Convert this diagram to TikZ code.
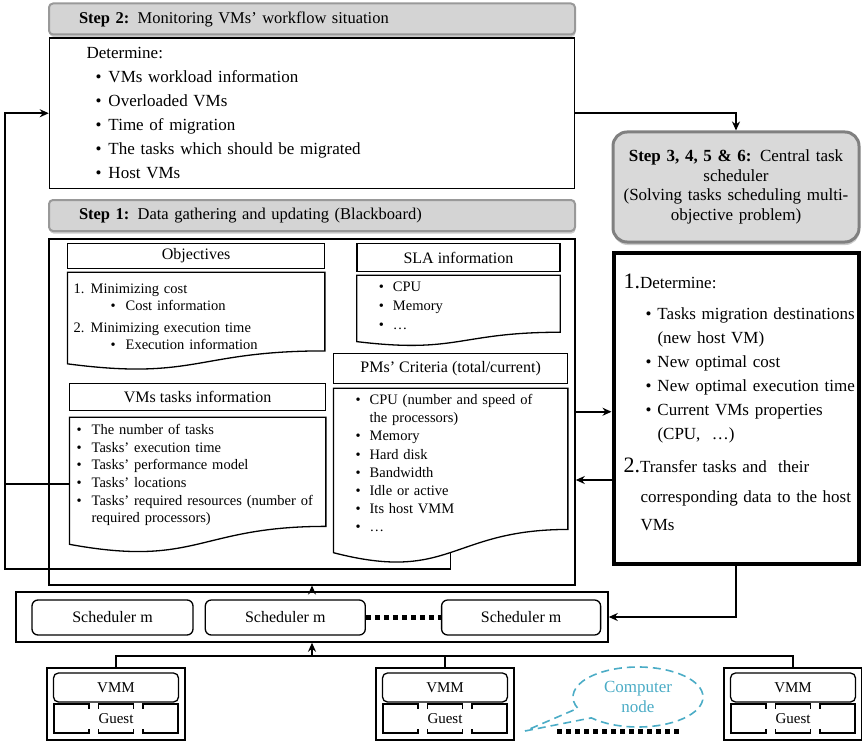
\documentclass[tikz,border=0pt]{standalone}
\usepackage{fontspec}
\setmainfont{Liberation Serif}
\usepackage{tikz}
\usetikzlibrary{shapes.geometric, shapes.callouts, arrows.meta}
\usetikzlibrary{positioning, calc, shadows}
\definecolor{calloutblue}{HTML}{4BACC6}
\tikzstyle{stephead} = [rectangle, rounded corners=4pt, draw=black!40, fill=black!17, line width=2pt, drop shadow={shadow xshift=0.5pt, shadow yshift=-2.5pt, fill=black!40}, inner xsep=30pt, inner ysep=0pt, text width=466pt, align=left, minimum height=31pt, font=\fontsize{16.5}{20}\selectfont]
\tikzstyle{arrow} = [line width=1.8pt,-{Stealth[length=9pt,width=8pt]}]
\newcommand{\bitem}[3]{\hspace*{#1}\makebox[#2][l]{\textbullet}\mbox{#3}}
\newcommand{\docframe}[2]{%
  \draw[line width=1.3pt] (#1.north west) -- (#1.north east) -- ($(#1.north east)+(0,0.802*#2)$)
    .. controls ($(#1.north)+(0,0.802*#2)$) and ($(#1.north)+(0,1.107*#2)$) .. ($(#1.north west)+(0,0.934*#2)$)
    coordinate[pos=0.5] (#1foot) -- cycle;}

\begin{document}
\begin{tikzpicture}[x=1pt, y=-1pt,
titlebox/.style={rectangle, draw, line width=1.3pt, inner sep=0pt, anchor=north west, font=\fontsize{16}{18}\selectfont},
docnode/.style={rectangle, anchor=north west, align=left, inner xsep=6pt, font=\fontsize{14.5}{17.6}\selectfont},
schedbox/.style={rectangle, rounded corners=6pt, draw, line width=1.3pt, minimum height=35pt, font=\fontsize{16}{18}\selectfont},
pcbox/.style={rectangle, draw, line width=1.3pt, minimum width=138pt, minimum height=72pt},
vmmbox/.style={rectangle, rounded corners=5pt, draw, line width=1.3pt, minimum width=125pt, minimum height=29pt, font=\fontsize{15}{17}\selectfont},
guestpart/.style={rectangle, draw, line width=1.3pt, minimum width=35pt, minimum height=29pt},
dots/.style={line width=5pt, dash pattern=on 5pt off 4pt},
]
\useasboundingbox (0,0) rectangle (862,741);

%Nodes
\node[stephead] (step2head) at (312,19) {\textbf{Step 2:} Monitoring VMs’ workflow situation};
\node[rectangle, draw, line width=1.5pt, minimum width=525pt, minimum height=150pt, inner xsep=37pt, inner ysep=0pt, text width=451pt, align=left, font=\fontsize{17}{24}\selectfont] (step2body) [below=2pt of step2head]
  {Determine:\\
   \bitem{9pt}{13pt}{VMs workload information}\\
   \bitem{9pt}{13pt}{Overloaded VMs}\\
   \bitem{9pt}{13pt}{Time of migration}\\
   \bitem{9pt}{13pt}{The tasks which should be migrated}\\
   \bitem{9pt}{13pt}{Host VMs}};
\node[stephead] (step1head) [below=10pt of step2body] {\textbf{Step 1:} Data gathering and updating (Blackboard)};
\node[rectangle, draw, line width=1.5pt, minimum width=526pt, minimum height=346pt] (bboard) [below=6pt of step1head] {};

\node[titlebox, minimum width=257pt, minimum height=25pt] (objtitle) at (67,243) {Objectives};
\node[docnode, inner ysep=11pt, text width=245pt] (objdoc) [below=3pt of objtitle]
  {\makebox[17pt][l]{1.}Minimizing cost\\
   \bitem{37pt}{15pt}{Cost information}\\[4pt]
   \makebox[17pt][l]{2.}Minimizing execution time\\
   \bitem{37pt}{15pt}{Execution information}};
\node[titlebox, minimum width=256pt, minimum height=27pt] (vmstitle) at (69,383) {VMs tasks information};
\node[docnode, inner xsep=7pt, inner ysep=7pt, text width=242pt] (vmsdoc) [below=6pt of vmstitle]
  {\bitem{0pt}{15pt}{The number of tasks}\\
   \bitem{0pt}{15pt}{Tasks’ execution time}\\
   \bitem{0pt}{15pt}{Tasks’ performance model}\\
   \bitem{0pt}{15pt}{Tasks’ locations}\\
   \bitem{0pt}{15pt}{Tasks’ required resources (number of}\\
   \hspace*{15pt}required processors)};
\node[titlebox, minimum width=203pt, minimum height=28pt] (slatitle) [right=31pt of objtitle.north east, anchor=north west] {SLA information};
\node[docnode, inner ysep=6pt, text width=191pt, font=\fontsize{14.5}{19}\selectfont] (sladoc) [below=3pt of slatitle]
  {\bitem{16pt}{14pt}{CPU}\\
   \bitem{16pt}{14pt}{Memory}\\
   \bitem{16pt}{14pt}{…}};
\node[titlebox, minimum width=234pt, minimum height=30pt] (pmstitle) at (333,353) {PMs’ Criteria (total/current)};
\node[docnode, inner ysep=6pt, text width=222pt, font=\fontsize{14.5}{18.1}\selectfont] (pmsdoc) [below=4pt of pmstitle]
  {\bitem{16pt}{14pt}{CPU (number and speed of}\\
   \hspace*{30pt}the processors)\\
   \bitem{16pt}{14pt}{Memory}\\
   \bitem{16pt}{14pt}{Hard disk}\\
   \bitem{16pt}{14pt}{Bandwidth}\\
   \bitem{16pt}{14pt}{Idle or active}\\
   \bitem{16pt}{14pt}{Its host VMM}\\
   \bitem{16pt}{14pt}{…}};

\node[rectangle, rounded corners=14pt, draw=black!50, fill=black!15, line width=3pt, drop shadow={shadow xshift=0.5pt, shadow yshift=-3pt, fill=black!40}, minimum width=246pt, minimum height=110pt, text width=236pt, inner sep=0pt, align=center, font=\fontsize{17}{19.7}\selectfont] (central) at (736,187)
  {\textbf{Step 3, 4, 5 \& 6:} Central task\\ scheduler\\ (Solving tasks scheduling multi-\\ objective problem)};
\node[rectangle, draw, line width=4pt, minimum width=245pt, minimum height=311pt, inner xsep=10pt, inner ysep=0pt, text width=225pt, align=left, font=\fontsize{17}{24}\selectfont] (rightbox) [below=7pt of central]
  {\mbox{{\fontsize{22}{24}\selectfont 1.}Determine:}\\[7pt]
   \bitem{22pt}{12pt}{Tasks migration destinations}\\
   \hspace*{34pt}\mbox{(new host VM)}\\
   \bitem{22pt}{12pt}{New optimal cost}\\
   \bitem{22pt}{12pt}{New optimal execution time}\\
   \bitem{22pt}{12pt}{Current VMs properties}\\
   \hspace*{34pt}\mbox{(CPU,~ …)}\\[9pt]
   \mbox{{\fontsize{22}{24}\selectfont 2.}Transfer tasks and~ their}\\[6pt]
   \hspace*{17pt}\mbox{corresponding data to the host}\\[4pt]
   \hspace*{17pt}VMs\\[-12pt]
   \mbox{}};

\node[rectangle, draw, line width=1.5pt, minimum width=592pt, minimum height=50pt] (schedrow) at (312,617) {};
\node[schedbox, minimum width=161pt] (sched1) at (112.5,617.5) {Scheduler m};
\node[schedbox, minimum width=160pt] (sched2) [right=11pt of sched1] {Scheduler m};
\node[schedbox, minimum width=159pt] (sched3) [right=75pt of sched2] {Scheduler m};

\foreach \n/\x in {1/116, 2/445, 3/793}{
  \node[pcbox] (pc\n) at (\x,704) {};
  \node[vmmbox] (vmm\n) [below=5pt of pc\n.north] {VMM};
  \node[guestpart] (guestl\n) at (\x-44.5,718.5) {};
  \node[guestpart] (guestm\n) at (\x,718.5) {};
  \node[guestpart] (guestr\n) at (\x+44.5,718.5) {};
  \node[fill=white, inner sep=0pt, minimum width=62pt, minimum height=20pt, font=\fontsize{15}{17}\selectfont] (guest\n) at (\x,718.5) {Guest};
}

\coordinate (calltip) at (525,731);
\node[ellipse callout, draw=calloutblue, dash pattern=on 8pt off 5pt, line width=1.6pt, minimum width=130pt, minimum height=60pt, callout absolute pointer={(calltip)}, callout pointer arc=22, text=calloutblue, align=center, font=\fontsize{17}{20}\selectfont] (cnode) at (638,697) {Computer\\node};

\coordinate (bus) at (312,656);
\coordinate (dotsl) at (557,731);
\coordinate (dotsr) at (681,731);
\coordinate (loopleft) at (5,569);
\coordinate (backy) at (600,480);

\docframe{objdoc}{98}
\docframe{vmsdoc}{136}
\docframe{sladoc}{71}
\docframe{pmsdoc}{176}
\coordinate (vmsjoin) at ($(vmsdoc.north west)+(0,67)$);

%Lines
\draw[arrow] (step2body.east) -| (central.north);
\draw[arrow] (bboard.east) -- (bboard.east -| rightbox.west);
\draw[arrow] (rightbox.west |- backy) -- (bboard.east |- backy);
\draw[arrow] (rightbox.south) |- (schedrow.east);
\draw[arrow] (schedrow.north) -- (bboard.south);
\draw[line width=1.4pt] (pmsdocfoot) |- (loopleft) -- (loopleft |- vmsjoin);
\draw[arrow] (vmsjoin) -- (loopleft |- vmsjoin) |- (step2body.west);
\draw[dots] (sched2.east) -- (sched3.west);
\draw[line width=1.8pt] (pc1.north) |- (bus) -| (pc3.north);
\draw[line width=1.8pt] (pc2.north) -- (pc2.north |- bus);
\draw[arrow] (bus) -- (schedrow.south);
\draw[dots] (dotsl) -- (dotsr);

\end{tikzpicture}
\end{document}
